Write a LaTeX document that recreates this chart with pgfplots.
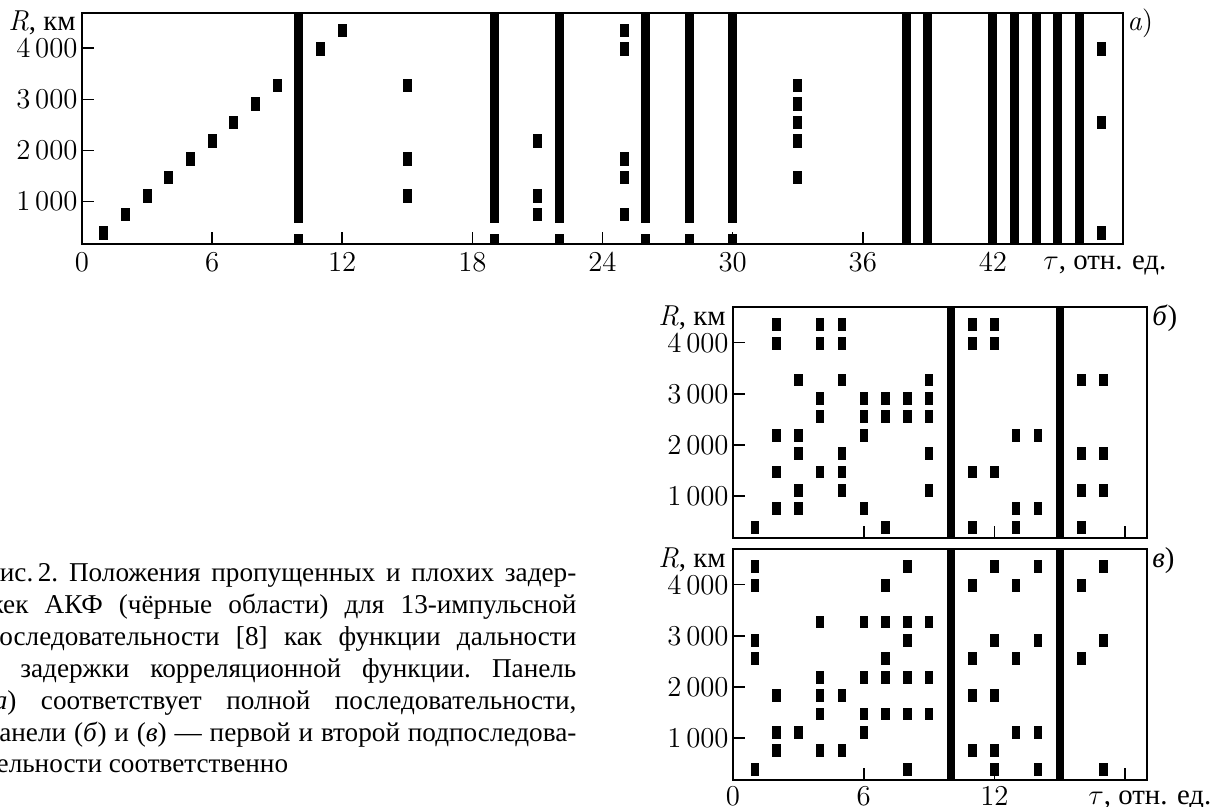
\documentclass[border=0pt]{standalone}
\usepackage[no-math]{fontspec}
\setmainfont{Liberation Serif}
\usepackage{pgfplots}
\usepackage{pgfplotstable}
\pgfplotsset{compat=1.18}

\pgfdeclareplotmark{recta}{\pgfpathrectangle{\pgfqpoint{-2.25pt}{-3.4pt}}{\pgfqpoint{4.5pt}{6.8pt}}\pgfusepathqfill}
\pgfdeclareplotmark{rectb}{\pgfpathrectangle{\pgfqpoint{-2.1pt}{-3.2pt}}{\pgfqpoint{4.2pt}{6.4pt}}\pgfusepathqfill}

\newcommand\tfont{\fontsize{14.4}{16}\selectfont}
\newcommand\lmfont{\fontfamily{lmr}\fontsize{14.4}{16}\selectfont}

\pgfplotstableread{
t R
1 390
2 750
3 1110
4 1470
5 1830
6 2190
7 2550
8 2910
9 3270
11 3990
12 4350
15 3270
15 1830
15 1110
21 2190
21 1110
21 750
25 4350
25 3990
25 1830
25 1470
25 750
33 3270
33 2910
33 2550
33 2190
33 1470
47 3990
47 2550
47 390
}\sqa

\pgfplotstableread{
t R
1 390
2 4350
2 3990
2 2190
2 1470
2 750
3 3270
3 2190
3 1830
3 1110
3 750
4 4350
4 3990
4 2910
4 2550
4 1470
5 4350
5 3990
5 3270
5 1830
5 1470
5 1110
6 2910
6 2550
6 2190
6 750
7 2910
7 2550
7 390
8 2910
8 2550
9 3270
9 2910
9 2550
9 1830
9 1110
11 4350
11 3990
11 1470
11 390
12 4350
12 3990
12 1470
13 2190
13 750
13 390
14 2190
14 750
16 3270
16 1830
16 1110
16 390
17 3270
17 1830
17 1110
}\sqb

\pgfplotstableread{
t R
1 4350
1 3990
1 2910
1 2550
1 390
2 1830
2 1110
2 750
3 1110
4 3270
4 2190
4 1830
4 1470
4 750
5 1830
5 750
6 3270
6 2190
6 1470
6 1110
7 3990
7 3270
7 2550
7 2190
7 1470
8 4350
8 3270
8 2910
8 2190
8 1470
8 390
9 3270
9 2190
9 1470
11 3990
11 2550
11 1830
11 750
12 4350
12 2910
12 1830
12 750
12 390
13 3990
13 2550
13 1110
14 4350
14 2910
14 1110
14 390
16 3990
16 2550
17 4350
17 2910
17 390
}\sqc

\pgfplotsset{
  panel/.style={
    scale only axis, anchor=north west,
    xmin=0, ymin=170, ymax=4690,
    height=115.5pt,
    ytick={1000,2000,3000,4000},
    tick pos=left, tick align=inside,
    major tick length=6pt,
    axis line style={line width=1pt},
    tick style={line width=0.8pt, black},
    tick label style={font=\lmfont, inner sep=3pt},
    yticklabel style={inner sep=2pt},
    /pgf/number format/assume math mode=true,
    /pgf/number format/1000 sep={\,},
    scaled ticks=false,
    axis on top,
    clip=false,
  }
}

\begin{document}
\begin{tikzpicture}
\useasboundingbox (0,0) rectangle (605pt,-403.5pt);
\clip (0,0) rectangle (605pt,-403.5pt);

% ---------- panel a ----------
\begin{axis}[panel, at={(41pt,-6.5pt)}, width=520.5pt, xmax=48,
  xtick={0,6,12,18,24,30,36,42}, xticklabel style={inner sep=3.8pt}]
\addplot[black, line width=4.5pt, unbounded coords=jump, forget plot] coordinates {
 (10,170)(10,358)(10,nan)(10,587)(10,4690)(10,nan)
 (19,170)(19,358)(19,nan)(19,587)(19,4690)(19,nan)
 (22,170)(22,358)(22,nan)(22,587)(22,4690)(22,nan)
 (26,170)(26,358)(26,nan)(26,587)(26,4690)(26,nan)
 (28,170)(28,358)(28,nan)(28,587)(28,4690)(28,nan)
 (30,170)(30,358)(30,nan)(30,587)(30,4690)(30,nan)
 (38,170)(38,4690)(38,nan)
 (39,170)(39,4690)(39,nan)
 (42,170)(42,4690)(42,nan)
 (43,170)(43,4690)(43,nan)
 (44,170)(44,4690)(44,nan)
 (45,170)(45,4690)(45,nan)
 (46,170)(46,4690)
};
\addplot[black, only marks, mark=recta] table[x=t, y=R] {\sqa};
\node[anchor=base east, inner sep=0, xshift=-3pt, yshift=-9pt] at (rel axis cs:0,1) {{\lmfont\itshape R}{\tfont, км}};
\node[anchor=base west, inner sep=0, xshift=2pt, yshift=-9pt] at (rel axis cs:1,1) {\lmfont{\itshape a\/})};
\node[anchor=base west, font=\tfont, inner sep=0, xshift=-40pt, yshift=-13pt] at (rel axis cs:1,0) {$\tau$, отн. ед.};
\end{axis}

% ---------- panel b ----------
\begin{axis}[panel, at={(366.5pt,-153.7pt)}, width=207pt, xmax=19,
  xtick={0,6,12,18}, xticklabels={}]
\addplot[black, line width=4.2pt, unbounded coords=jump, forget plot] coordinates {
 (10,170)(10,4690)(10,nan)
 (15,170)(15,4690)
};
\addplot[black, only marks, mark=rectb] table[x=t, y=R] {\sqb};
\node[anchor=base east, inner sep=0, xshift=-3.5pt, yshift=-9pt] at (rel axis cs:0,1) {{\lmfont\itshape R}{\tfont, км}};
\node[anchor=base west, font=\tfont, inner sep=0, xshift=2.5pt, yshift=-9pt] at (rel axis cs:1,1) {\textit{б})};
\end{axis}

% ---------- panel v ----------
\begin{axis}[panel, at={(366.5pt,-274.7pt)}, width=207pt, xmax=19,
  xtick={0,6,12,18}, xticklabels={0,6,12,{}}]
\addplot[black, line width=4.2pt, unbounded coords=jump, forget plot] coordinates {
 (10,170)(10,4690)(10,nan)
 (15,170)(15,4690)
};
\addplot[black, only marks, mark=rectb] table[x=t, y=R] {\sqc};
\node[anchor=base east, inner sep=0, xshift=-3.5pt, yshift=-9pt] at (rel axis cs:0,1) {{\lmfont\itshape R}{\tfont, км}};
\node[anchor=base west, font=\tfont, inner sep=0, xshift=2.5pt, yshift=-9pt] at (rel axis cs:1,1) {\textit{в})};
\node[anchor=base west, font=\tfont, inner sep=0, xshift=-29.5pt, yshift=-12.2pt] at (rel axis cs:1,0) {$\tau$, отн. ед.};
\end{axis}

% ---------- caption ----------
\node[anchor=base west, inner sep=0] at (-7.8pt,-290.8pt) {\parbox[t]{295.8pt}{%
\fontsize{13.6}{15.95}\selectfont\frenchspacing\tolerance=10000\hyphenpenalty=10000\exhyphenpenalty=10000
Рис.\,2. Положения пропущенных и плохих задер-\linebreak
жек АКФ (чёрные области) для 13-импульсной\linebreak
последовательности [8] как функции дальности\linebreak
и задержки корреляционной функции. Панель\linebreak
(\textit{а}) соответствует полной последовательности,\linebreak
панели (\textit{б}) и (\textit{в}) — первой и второй подпоследова-\linebreak
тельности соответственно}};
\end{tikzpicture}
\end{document}
